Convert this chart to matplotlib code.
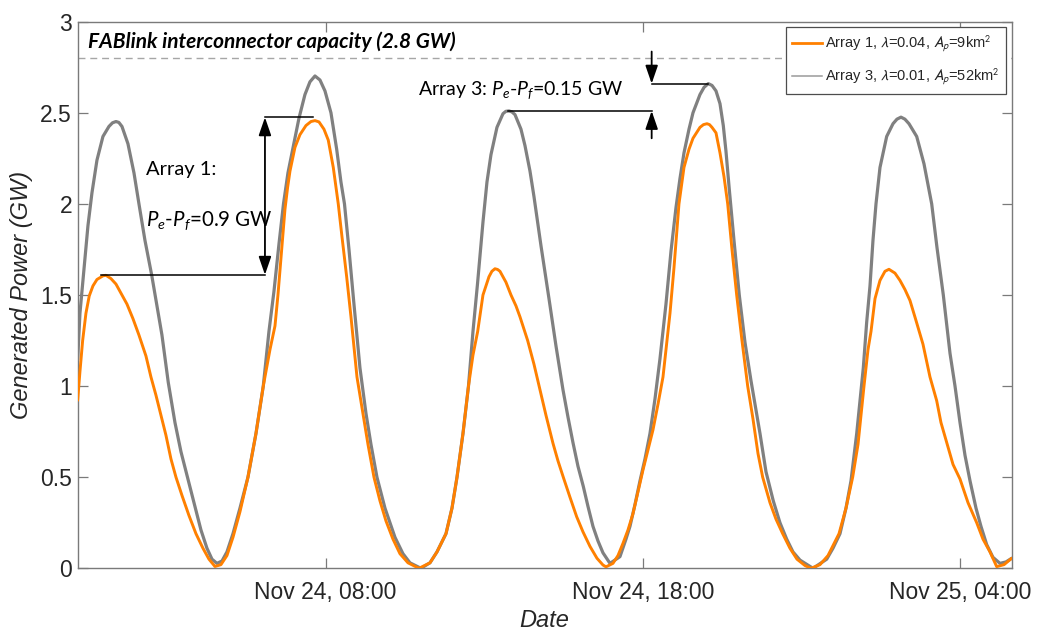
import matplotlib
matplotlib.use("Agg")
import matplotlib.pyplot as plt
import matplotlib.dates as mdates
from matplotlib.lines import Line2D
import pandas as pd

# ---------------- data ----------------
t0 = pd.Timestamp("2021-11-24 00:00")

# Array 3 (lambda=0.01, Ap=52 km2): hours after Nov 24 00:00 and generated power (GW)
hours_a3 = [0.182, 0.254, 0.380, 0.506, 0.632, 0.790, 0.979, 1.168, 1.280, 1.389,
            1.480, 1.578, 1.767, 1.957, 2.114, 2.303, 2.515, 2.682, 2.839, 3.038,
            3.249, 3.438, 3.659, 3.880, 4.069, 4.258, 4.416, 4.573, 4.731, 4.888,
            5.078, 5.298, 5.550, 5.803, 6.033, 6.212, 6.370, 6.528, 6.670, 6.811,
            6.985, 7.158, 7.347, 7.505, 7.663, 7.820, 7.978, 8.167, 8.347, 8.482,
            8.593, 8.735, 8.892, 9.081, 9.271, 9.428, 9.617, 9.870, 10.185, 10.437,
            10.658, 11.004, 11.288, 11.509, 11.793, 11.982, 12.140, 12.329, 12.502, 12.644,
            12.786, 12.959, 13.085, 13.211, 13.400, 13.590, 13.680, 13.779, 13.870, 13.968,
            14.157, 14.283, 14.441, 14.567, 14.788, 15.040, 15.261, 15.481, 15.639, 15.796,
            15.954, 16.121, 16.269, 16.427, 16.585, 16.742, 16.963, 17.278, 17.467, 17.593,
            17.751, 17.909, 18.066, 18.224, 18.382, 18.539, 18.728, 18.886, 19.044, 19.170,
            19.296, 19.454, 19.580, 19.800, 19.930, 20.062, 20.180, 20.305, 20.431, 20.535,
            20.619, 20.724, 20.872, 21.039, 21.219, 21.408, 21.566, 21.692, 21.881, 22.111,
            22.322, 22.534, 22.732, 22.953, 23.363, 23.795, 23.993, 24.214, 24.403, 24.561,
            24.741, 24.845, 24.949, 25.055, 25.160, 25.254, 25.349, 25.475, 25.686, 25.885,
            26.010, 26.137, 26.260, 26.389, 26.632, 26.862, 27.105, 27.272, 27.471, 27.682,
            27.840, 27.997, 28.155, 28.313, 28.502, 28.659, 28.839, 29.037, 29.258, 29.447,
            29.627]
power_a3 = [1.145, 1.40, 1.64, 1.88, 2.06, 2.24, 2.37, 2.425, 2.445, 2.452,
            2.447, 2.425, 2.33, 2.17, 2.00, 1.80, 1.61, 1.44, 1.28, 1.02,
            0.80, 0.64, 0.49, 0.34, 0.21, 0.11, 0.05, 0.027, 0.04, 0.09,
            0.19, 0.33, 0.50, 0.74, 1.00, 1.30, 1.52, 1.78, 2.00, 2.17,
            2.32, 2.47, 2.60, 2.67, 2.702, 2.68, 2.62, 2.50, 2.30, 2.12,
            2.00, 1.75, 1.45, 1.10, 0.85, 0.68, 0.50, 0.33, 0.17, 0.08,
            0.03, 0.0, 0.03, 0.09, 0.19, 0.33, 0.50, 0.74, 1.00, 1.30,
            1.56, 1.90, 2.12, 2.27, 2.42, 2.495, 2.508, 2.51, 2.505, 2.49,
            2.41, 2.32, 2.18, 2.04, 1.77, 1.48, 1.22, 0.98, 0.83, 0.69,
            0.56, 0.45, 0.34, 0.23, 0.15, 0.085, 0.027, 0.064, 0.16, 0.23,
            0.35, 0.48, 0.60, 0.74, 0.93, 1.15, 1.45, 1.74, 1.98, 2.14,
            2.28, 2.41, 2.50, 2.60, 2.64, 2.66, 2.65, 2.62, 2.55, 2.43,
            2.29, 2.08, 1.80, 1.50, 1.24, 1.03, 0.87, 0.74, 0.53, 0.37,
            0.25, 0.16, 0.09, 0.045, 0.0, 0.05, 0.11, 0.19, 0.33, 0.48,
            0.74, 0.92, 1.10, 1.35, 1.55, 1.80, 2.00, 2.20, 2.37, 2.44,
            2.465, 2.476, 2.465, 2.44, 2.37, 2.22, 2.00, 1.76, 1.50, 1.18,
            1.00, 0.80, 0.62, 0.48, 0.33, 0.23, 0.13, 0.06, 0.027, 0.035,
            0.055]

# Array 1 (lambda=0.04, Ap=9 km2)
hours_a1 = [0.182, 0.254, 0.339, 0.443, 0.547, 0.664, 0.790, 0.979, 1.074, 1.231,
            1.389, 1.547, 1.736, 1.925, 2.114, 2.335, 2.492, 2.650, 2.808, 2.965,
            3.123, 3.281, 3.470, 3.690, 3.911, 4.132, 4.321, 4.510, 4.699, 4.888,
            5.078, 5.298, 5.550, 5.803, 6.033, 6.244, 6.402, 6.496, 6.591, 6.717,
            6.800, 6.875, 7.032, 7.190, 7.379, 7.537, 7.663, 7.789, 7.946, 8.082,
            8.240, 8.397, 8.514, 8.662, 8.798, 8.987, 9.176, 9.334, 9.523, 9.712,
            9.901, 10.122, 10.342, 10.595, 10.941, 11.288, 11.509, 11.793, 11.982, 12.140,
            12.329, 12.502, 12.644, 12.792, 12.959, 13.148, 13.240, 13.337, 13.420, 13.495,
            13.684, 13.842, 14.000, 14.126, 14.368, 14.567, 14.756, 14.945, 15.166, 15.323,
            15.491, 15.702, 15.913, 16.112, 16.333, 16.553, 16.742, 16.837, 17.057, 17.215,
            17.373, 17.530, 17.688, 17.846, 18.004, 18.161, 18.319, 18.476, 18.634, 18.760,
            18.855, 18.981, 19.138, 19.296, 19.454, 19.580, 19.800, 19.910, 20.021, 20.100,
            20.179, 20.305, 20.431, 20.557, 20.674, 20.809, 20.957, 21.124, 21.304, 21.471,
            21.629, 21.777, 22.007, 22.196, 22.407, 22.637, 22.858, 23.111, 23.300, 23.584,
            23.836, 24.183, 24.403, 24.614, 24.782, 24.971, 25.097, 25.192, 25.318, 25.475,
            25.632, 25.758, 25.947, 26.105, 26.262, 26.420, 26.610, 26.830, 27.051, 27.262,
            27.397, 27.577, 27.777, 27.997, 28.250, 28.524, 28.722, 28.943, 29.154, 29.385,
            29.627]
power_a1 = [0.922, 1.08, 1.25, 1.40, 1.495, 1.55, 1.585, 1.605, 1.608, 1.59,
            1.56, 1.51, 1.45, 1.37, 1.28, 1.165, 1.05, 0.95, 0.84, 0.73,
            0.60, 0.50, 0.40, 0.29, 0.19, 0.11, 0.05, 0.01, 0.02, 0.07,
            0.17, 0.31, 0.50, 0.74, 1.00, 1.20, 1.33, 1.50, 1.70, 1.97,
            2.09, 2.18, 2.31, 2.38, 2.43, 2.452, 2.457, 2.45, 2.41, 2.35,
            2.20, 2.00, 1.82, 1.60, 1.38, 1.05, 0.85, 0.68, 0.50, 0.37,
            0.26, 0.16, 0.08, 0.03, 0.0, 0.03, 0.09, 0.19, 0.33, 0.50,
            0.74, 1.00, 1.17, 1.30, 1.50, 1.60, 1.63, 1.644, 1.64, 1.63,
            1.57, 1.50, 1.44, 1.38, 1.25, 1.12, 0.98, 0.84, 0.686, 0.59,
            0.50, 0.39, 0.283, 0.20, 0.12, 0.055, 0.018, 0.008, 0.027, 0.07,
            0.137, 0.21, 0.30, 0.42, 0.54, 0.65, 0.76, 0.90, 1.05, 1.25,
            1.40, 1.65, 2.00, 2.20, 2.30, 2.36, 2.42, 2.435, 2.44, 2.435,
            2.42, 2.39, 2.28, 2.15, 2.00, 1.75, 1.50, 1.25, 1.00, 0.82,
            0.63, 0.50, 0.36, 0.27, 0.19, 0.11, 0.05, 0.015, 0.0, 0.02,
            0.07, 0.19, 0.33, 0.50, 0.68, 1.00, 1.20, 1.30, 1.48, 1.58,
            1.63, 1.641, 1.62, 1.58, 1.53, 1.47, 1.36, 1.23, 1.05, 0.92,
            0.80, 0.69, 0.57, 0.49, 0.36, 0.25, 0.16, 0.09, 0.009, 0.02,
            0.055]

capacity_gw = 2.8
x_tick_hours = [8, 18, 28]
y_ticks = [0, 0.5, 1, 1.5, 2, 2.5, 3]
y_tick_labels = ["0", "0.5", "1", "1.5", "2", "2.5", "3"]
legend_labels = [r"Array 1, $\lambda$=0.04, $A_p$=9km$^2$",
                 r"Array 3, $\lambda$=0.01, $A_p$=52km$^2$"]

# Peak-to-peak spreads marked on the chart (hours, GW)
a1_low_peak = (0.916, 1.611)
a1_high_peak = (7.609, 2.475)
a1_arrow_hour = 6.086
a3_low_peak = (13.747, 2.51)
a3_high_peak = (20.062, 2.66)
a3_arrow_hour = 18.277


def to_time(h):
    return t0 + pd.to_timedelta(h, unit="h")


# ---------------- style ----------------
plt.rcParams["font.family"] = ["Liberation Sans", "DejaVu Sans"]
plt.rcParams["mathtext.fontset"] = "custom"
plt.rcParams["mathtext.rm"] = "Lato"
plt.rcParams["mathtext.it"] = "Lato:italic"
plt.rcParams["mathtext.bf"] = "Lato:bold"

ORANGE = "#ff8000"
GREY = "#808080"
AXC = "#7a7a7a"
TXT = "#262626"

fig = plt.figure(figsize=(10.37, 6.32), dpi=100)
ax = fig.add_axes([0.0749, 0.1008, 0.9007, 0.8649])

t_a1 = to_time(pd.Series(hours_a1))
t_a3 = to_time(pd.Series(hours_a3))

ax.plot(t_a3, power_a3, color=GREY, lw=2.3, solid_capstyle="round",
        solid_joinstyle="round", zorder=3)
ax.plot(t_a1, power_a1, color=ORANGE, lw=2.1, solid_capstyle="round",
        solid_joinstyle="round", zorder=4)

ax.axhline(capacity_gw, color="#a6a6a6", lw=1.0, ls=(0, (5, 3.5)), zorder=2)

ax.set_xlim(to_time(hours_a3[0]), to_time(hours_a3[-1]))
ax.set_ylim(0, 3)
ax.set_yticks(y_ticks)
ax.set_yticklabels(y_tick_labels)
ax.set_xticks([to_time(h) for h in x_tick_hours])
ax.xaxis.set_major_formatter(mdates.DateFormatter("%b %d, %H:%M"))

for s in ax.spines.values():
    s.set_color(AXC)
    s.set_linewidth(1.0)
ax.tick_params(direction="in", length=7, width=0.9, color=AXC,
               labelsize=16.5, labelcolor=TXT, top=True, right=True)
ax.tick_params(axis="y", pad=4)
ax.tick_params(axis="x", pad=9)

ax.set_xlabel("Date", fontsize=17, fontstyle="italic", color=TXT, labelpad=4)
ax.set_ylabel("Generated Power (GW)", fontsize=17, fontstyle="italic", color=TXT)
ax.yaxis.set_label_coords(-0.048, 0.5)

# capacity line label
ax.text(to_time(0.516), 2.889, "FABlink interconnector capacity (2.8 GW)",
        family="Lato", fontsize=15, fontweight="bold", fontstyle="italic",
        color="black", ha="left", va="center")

# Array 1 spread
ax.plot([to_time(a1_low_peak[0]), to_time(a1_arrow_hour)], [a1_low_peak[1]] * 2,
        color="black", lw=1.1, zorder=5)
ax.plot([to_time(a1_arrow_hour), to_time(a1_high_peak[0])], [a1_high_peak[1]] * 2,
        color="black", lw=1.1, zorder=5)
ax.annotate("", xy=(to_time(a1_arrow_hour), a1_high_peak[1]),
            xytext=(to_time(a1_arrow_hour), a1_low_peak[1]),
            arrowprops=dict(arrowstyle="<|-|>,head_length=1.1,head_width=0.38",
                            mutation_scale=10, color="black", lw=1.3,
                            shrinkA=0, shrinkB=0), zorder=5)
ax.text(to_time(2.325), 2.19, "Array 1:", family="Lato", fontsize=14.5,
        color="black", ha="left", va="center")
ax.text(to_time(2.325), 1.906, r"$P_e$-$P_f$=0.9 GW", family="Lato", fontsize=14.8,
        color="black", ha="left", va="center")

# Array 3 spread
ax.plot([to_time(a3_low_peak[0]), to_time(a3_arrow_hour)], [a3_low_peak[1]] * 2,
        color="black", lw=1.1, zorder=5)
ax.plot([to_time(a3_arrow_hour), to_time(a3_high_peak[0])], [a3_high_peak[1]] * 2,
        color="black", lw=1.1, zorder=5)
ax.annotate("", xy=(to_time(a3_arrow_hour), a3_high_peak[1]),
            xytext=(to_time(a3_arrow_hour), 2.836),
            arrowprops=dict(arrowstyle="-|>,head_length=1.1,head_width=0.38",
                            mutation_scale=10, color="black", lw=1.3,
                            shrinkA=0, shrinkB=0), zorder=5)
ax.annotate("", xy=(to_time(a3_arrow_hour), a3_low_peak[1]),
            xytext=(to_time(a3_arrow_hour), 2.36),
            arrowprops=dict(arrowstyle="-|>,head_length=1.1,head_width=0.38",
                            mutation_scale=10, color="black", lw=1.3,
                            shrinkA=0, shrinkB=0), zorder=5)
ax.text(to_time(10.919), 2.625, r"Array 3: $P_e$-$P_f$=0.15 GW", family="Lato",
        fontsize=14, color="black", ha="left", va="center")

# legend
handles = [Line2D([], [], color=ORANGE, lw=2.0),
           Line2D([], [], color="#9a9a9a", lw=1.1)]
leg = ax.legend(handles, legend_labels, loc="upper right",
                bbox_to_anchor=(0.9936, 0.9898), borderaxespad=0,
                fontsize=10.5, frameon=True, fancybox=False, framealpha=1,
                edgecolor="#4d4d4d", handlelength=2.0, handletextpad=0.2,
                labelspacing=0.85, borderpad=0.45)
leg.get_frame().set_linewidth(0.9)
for txt in leg.get_texts():
    txt.set_color(TXT)
    txt.set_math_fontfamily("stixsans")

fig.savefig("out.png", dpi=100)
